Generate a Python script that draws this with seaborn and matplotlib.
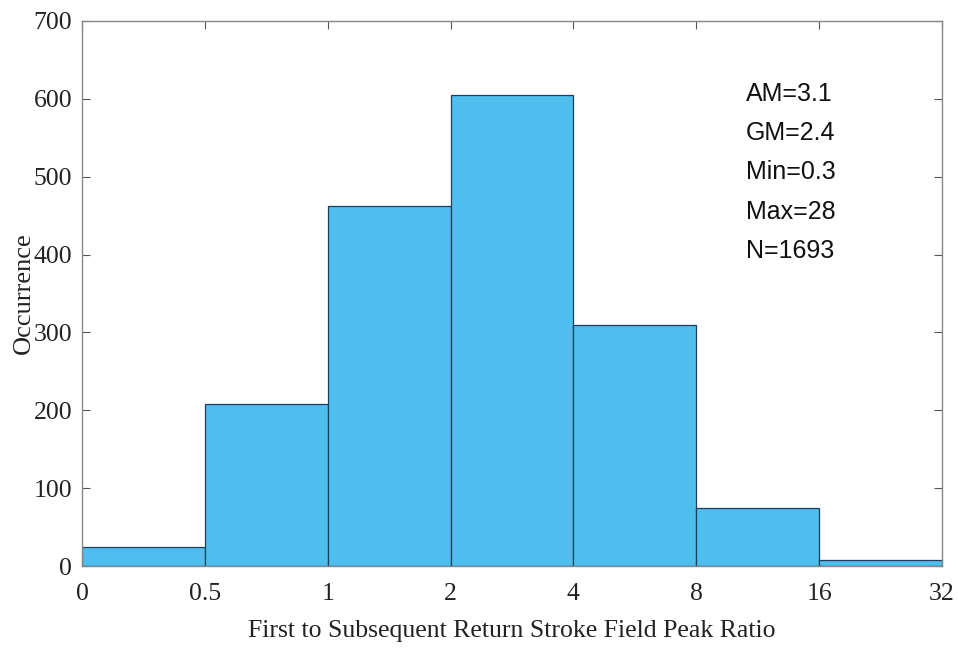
import numpy as np
import pandas as pd
import matplotlib
matplotlib.use("Agg")
import matplotlib.pyplot as plt
import seaborn as sns

edge_labels = ["0", "0.5", "1", "2", "4", "8", "16", "32"]
counts = [25, 208, 463, 605, 309, 75, 8]
stats_lines = ["AM=3.1", "GM=2.4", "Min=0.3", "Max=28", "N=1693"]

sns.set_theme(style="white")
plt.rcParams["font.family"] = ["Liberation Serif", "DejaVu Serif"]

df = pd.DataFrame({"pos": np.arange(len(counts)) + 0.5, "count": counts})

fig = plt.figure(figsize=(9.58, 6.52), dpi=100)
ax = fig.add_axes([0.0856, 0.1319, 0.8977, 0.8359])

sns.histplot(data=df, x="pos", weights="count", binwidth=1, binrange=(0, len(counts)),
             color="#4DBEEE", edgecolor="#1f3d5c", linewidth=0.9, alpha=1.0, ax=ax)

ax.set_xlim(0, len(counts))
ax.set_ylim(0, 700)
ax.set_xticks(np.arange(len(edge_labels)))
ax.set_xticklabels(edge_labels)
ax.set_yticks(np.arange(0, 701, 100))
ax.tick_params(axis="both", which="both", direction="in", length=6, width=0.8,
               color="#555555", labelsize=18.5, labelcolor="#222222",
               top=True, right=True, bottom=True, left=True)
ax.tick_params(axis="x", pad=12)
ax.tick_params(axis="y", pad=7)
for s in ax.spines.values():
    s.set_color("#888888")
    s.set_linewidth(1.0)

ax.set_xlabel("First to Subsequent Return Stroke Field Peak Ratio", fontsize=18.5,
              color="#222222", labelpad=11)
ax.set_ylabel("Occurrence", fontsize=19, color="#222222", labelpad=-1)

y0 = 94
for i, line in enumerate(stats_lines):
    fig.text(746 / 958, 1 - (y0 + i * 39.2) / 652, line, fontsize=18,
             family=["Liberation Sans", "DejaVu Sans"], color="#111111",
             ha="left", va="center")

fig.savefig("out.png", dpi=100)
